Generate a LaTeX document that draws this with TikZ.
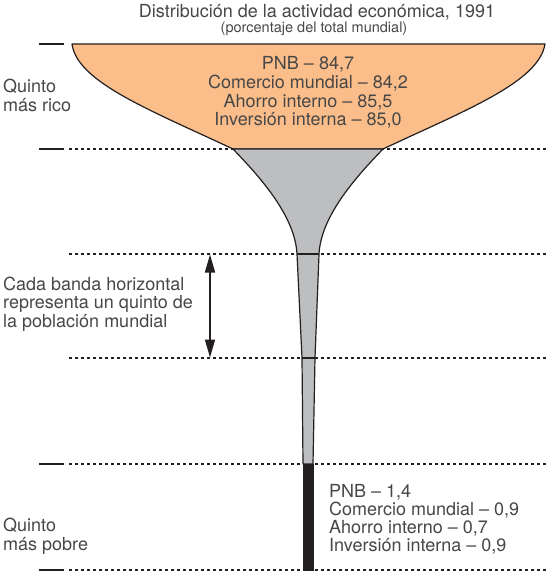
\documentclass[tikz,border=0pt]{standalone}
\usepackage{fontspec}
\setmainfont{TeX Gyre Heros}
\usetikzlibrary{arrows.meta}
\definecolor{ink}{HTML}{231F20}
\definecolor{txt}{HTML}{474747}
\definecolor{orangefill}{HTML}{FBBE8A}
\definecolor{grayfill}{HTML}{BCBEC0}
\begin{document}
\begin{tikzpicture}[x=1pt,y=-1pt,
  lbl/.style={inner sep=0pt, text=txt, font=\fontsize{18}{18}\selectfont},
  sublbl/.style={inner sep=0pt, text=txt, font=\fontsize{14.5}{14.5}\selectfont},
  dotline/.style={ink, line width=1.2pt, dash pattern=on 3.4pt off 2.6pt},
  tick/.style={ink, line width=1.3pt},
  outline/.style={draw=ink, line width=1.2pt, line join=round},
  bandline/.style={ink, line width=1.2pt},
  dimarrow/.style={ink, line width=1.5pt, {Triangle[width=10pt,length=18pt]}-{Triangle[width=10pt,length=18pt]}}]
\useasboundingbox (0,0) rectangle (546,572);
\fill[white] (0,0) rectangle (546,572);

% dotted band borders
\foreach \yy in {149,254,358,464,570}{
  \draw[dotline] (69,\yy) -- (546,\yy);
}
% short solid ticks at left
\foreach \yy in {44,149,464,570}{
  \draw[tick] (39,\yy) -- (64,\yy);
}

% orange (richest fifth)
\filldraw[fill=orangefill, outline] (72,44) -- (545,44)
  .. controls (539,82) and (466,110) .. (383,149) -- (233,149)
  .. controls (150,110) and (77,82) .. (72,44) -- cycle;

% grey funnel
\filldraw[fill=grayfill, outline] (233,149) -- (383,149)
  .. controls (358,175) and (321,215) .. (319,254)
  -- (315,358) -- (313,464) -- (303,464) -- (302,358) -- (297,254)
  .. controls (295,215) and (258,175) .. (233,149) -- cycle;
\draw[bandline] (297,254) -- (319,254);
\draw[bandline] (302,358) -- (315,358);

% black bar (poorest fifth)
\fill[ink] (302.5,464) rectangle (313.5,570.5);

% arrow
\coordinate (atop) at (210,254.5);
\coordinate (abot) at (210,357.5);
\draw[dimarrow] (atop) -- (abot);

% title
\node[lbl, anchor=base] (title) at (317,17.7) {Distribución de la actividad económica, 1991};
\node[sublbl, anchor=base] (subtitle) at (314,32.5) {(porcentaje del total mundial)};

% rich values
\node[lbl, anchor=base] (r1) at (308,70) {PNB – 84,7};
\node[lbl, anchor=base] (r2) at (308,88.7) {Comercio mundial – 84,2};
\node[lbl, anchor=base] (r3) at (308,107.3) {Ahorro interno – 85,5};
\node[lbl, anchor=base] (r4) at (308,126) {Inversión interna – 85,0};

% left labels
\node[lbl, anchor=base west] (q1) at (3,93) {Quinto};
\node[lbl, anchor=base west] (q2) at (3,112) {más rico};

\node[lbl, anchor=base west] (c1) at (3,290) {Cada banda horizontal};
\node[lbl, anchor=base west] (c2) at (3,308.5) {representa un quinto de};
\node[lbl, anchor=base west] (c3) at (3,327) {la población mundial};

\node[lbl, anchor=base west] (p1) at (3,531) {Quinto};
\node[lbl, anchor=base west] (p2) at (3,550) {más pobre};

% poor values
\node[lbl, anchor=base west] (b1) at (329,497.5) {PNB – 1,4};
\node[lbl, anchor=base west] (b2) at (329,515.5) {Comercio mundial – 0,9};
\node[lbl, anchor=base west] (b3) at (329,533.5) {Ahorro interno – 0,7};
\node[lbl, anchor=base west] (b4) at (329,551.5) {Inversión interna – 0,9};
\end{tikzpicture}
\end{document}
